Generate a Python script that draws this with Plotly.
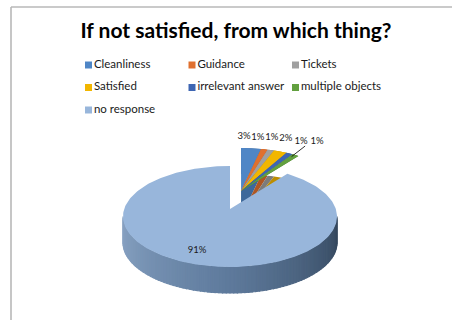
import numpy as np
import plotly.graph_objects as go

# ---- data -------------------------------------------------------------
categories = ["Cleanliness", "Guidance", "Tickets", "Satisfied",
              "irrelevant answer", "multiple objects", "no response"]
percent = [3, 1, 1, 2, 1, 1, 91]
colors = ["#4F86C6", "#E0702E", "#A0A0A0", "#F2B600",
          "#3E66B3", "#62A03F", "#98B6DB"]
title_text = "If not satisfied, from which thing?"

# ---- geometry of the tilted 3-D pie (pixel units) -----------------------
W, H = 452, 320
CX, CY = 230.0, 216.5      # centre of the top ellipse
RX, RY = 107.0, 50.5       # radii of the top ellipse
APEX_LIFT = 7.5            # perspective: the apex sits above the ellipse centre
DEPTH = 26.0               # thickness of the disc
EXPLODE = 0.37             # pull-out of the small slices (fraction of radius)
FONT = "Lato"

# label nudges relative to each slice's anchor point
label_nudge = [(-7, -11.5), (-6.5, -12), (1, -12.5), (5.5, -12.5),
               (11.5, -11.5), (21.5, -13), (-15, 5.5)]
leader = [False, False, False, False, True, False, False]


def rim(theta, dx=0.0, dy=0.0):
    t = np.radians(theta)
    return CX + dx + RX * np.sin(t), CY + dy - RY * np.cos(t)


def shade(hex_color, f):
    h = hex_color.lstrip("#")
    r, g, b = (int(h[i:i + 2], 16) for i in (0, 2, 4))
    return "#%02x%02x%02x" % (int(r * f), int(g * f), int(b * f))


def mix(c1, c2, t):
    a = [int(c1[i:i + 2], 16) for i in (1, 3, 5)]
    b = [int(c2[i:i + 2], 16) for i in (1, 3, 5)]
    return "#%02x%02x%02x" % tuple(int(round(a[k] + (b[k] - a[k]) * t)) for k in range(3))


fig = go.Figure()


def poly(xs, ys, color, name=None, edge=0.0):
    fig.add_trace(go.Scatter(
        x=list(xs), y=list(ys), mode="lines", fill="toself",
        fillcolor=color, line=dict(width=edge, color=color),
        hoverinfo="skip", showlegend=False, name=name))


# cumulative angles, clockwise from 12 o'clock
total = float(sum(percent))
ends = np.cumsum(percent) / total * 360.0
starts = np.concatenate([[0.0], ends[:-1]])
big = int(np.argmax(percent))
small = [i for i in range(len(percent)) if i != big]

# the small slices are pulled out together along their common mid-angle
g_mid = np.radians((starts[small[0]] + ends[small[-1]]) / 2)
ex_dx = EXPLODE * RX * np.sin(g_mid)
ex_dy = -EXPLODE * RY * np.cos(g_mid)


def wedge(a0, a1, dx, dy, n=None):
    if n is None:
        n = max(3, int((a1 - a0) / 2) + 2)
    th = np.linspace(a0, a1, n)
    px, py = rim(th, dx, dy)
    ax, ay = CX + dx, CY + dy - APEX_LIFT
    xs = np.concatenate([[ax], px, [ax]])
    ys = np.concatenate([[ay], py, [ay]])
    return xs, ys


# small slices: extruded sides first, then the top faces
for i in small:
    xs, ys = wedge(starts[i], ends[i], ex_dx, ex_dy)
    qx, qy = [], []
    for k in range(len(xs) - 1):
        qx += [xs[k], xs[k + 1], xs[k + 1], xs[k], xs[k], None]
        qy += [ys[k], ys[k + 1], ys[k + 1] + DEPTH, ys[k] + DEPTH, ys[k], None]
    poly(qx, qy, shade(colors[i], 0.78))
    poly(xs, ys, colors[i], categories[i])

# large slice: front rim with a left-to-right shading, then the top face
side_stops = ["#8AA4C4", "#5E7A9C", "#34475D"]
N = 90
th = np.linspace(270, 90, N + 1)
rx_, ry_ = rim(th)
for k in range(N):
    t = k / (N - 1)
    col = mix(side_stops[0], side_stops[1], t * 2) if t < 0.5 else mix(side_stops[1], side_stops[2], (t - 0.5) * 2)
    x0, x1 = rx_[k], rx_[k + 1]
    y0, y1 = ry_[k], ry_[k + 1]
    poly([x0, x1, x1, x0, x0], [y0, y1, y1 + DEPTH, y0 + DEPTH, y0], col, edge=1.2)

bx, by = wedge(starts[big], ends[big], 0, 0, n=240)
poly(bx, by, colors[big], categories[big])

# ---- data labels --------------------------------------------------------
lab_x, lab_y, lab_t = [], [], []
for i in range(len(percent)):
    mid = (starts[i] + ends[i]) / 2
    if i == big:
        t = np.radians(mid)
        axp, ayp = CX + 0.6 * RX * np.sin(t), CY - 0.6 * RY * np.cos(t)
    else:
        axp, ayp = rim(mid, ex_dx, ex_dy)
    lx, ly = axp + label_nudge[i][0], ayp + label_nudge[i][1]
    lab_x.append(lx)
    lab_y.append(ly)
    lab_t.append(f"{percent[i]}%")
    if leader[i]:
        fig.add_trace(go.Scatter(x=[lx + 4, axp + 2], y=[ly + 4, ayp + 3], mode="lines",
                                 line=dict(color="#000000", width=0.8),
                                 hoverinfo="skip", showlegend=False))

fig.add_trace(go.Scatter(x=lab_x, y=lab_y, text=lab_t, mode="text",
                         textposition="middle center",
                         textfont=dict(family=FONT, size=9.5, color="#1a1a1a"),
                         hoverinfo="skip", showlegend=False))

# ---- legend (three columns) ----------------------------------------------
for i, name in enumerate(categories):
    col, row = i % 3, i // 3
    fig.add_trace(go.Scatter(
        x=[88.5 + col * 103.5], y=[65 + row * 22.5], mode="markers+text",
        marker=dict(symbol="square", size=7, color=colors[i], line=dict(width=0)),
        text=[name], textposition="middle right",
        textfont=dict(family=FONT, size=11.5, color="#1a1a1a"),
        hoverinfo="skip", showlegend=False, cliponaxis=False))

# ---- chart frame ------------------------------------------------------
frame = dict(type="line", xref="x", yref="y", line=dict(color="#B8B8B8", width=1.6))
fig.add_shape(x0=11, y0=7, x1=W, y1=7, **frame)
fig.add_shape(x0=11, y0=7, x1=11, y1=H, **frame)

fig.update_layout(
    width=W, height=H, autosize=False,
    margin=dict(l=0, r=0, t=0, b=0),
    paper_bgcolor="white", plot_bgcolor="white",
    showlegend=False,
    title=dict(text=f"<b>{title_text}</b>", x=236 / W, xanchor="center",
               y=1 - 31 / H, yanchor="middle",
               font=dict(family=FONT, size=21, color="#000000")),
    xaxis=dict(range=[0, W], visible=False, fixedrange=True),
    yaxis=dict(range=[H, 0], visible=False, fixedrange=True),
)

fig.write_html("out.html")
